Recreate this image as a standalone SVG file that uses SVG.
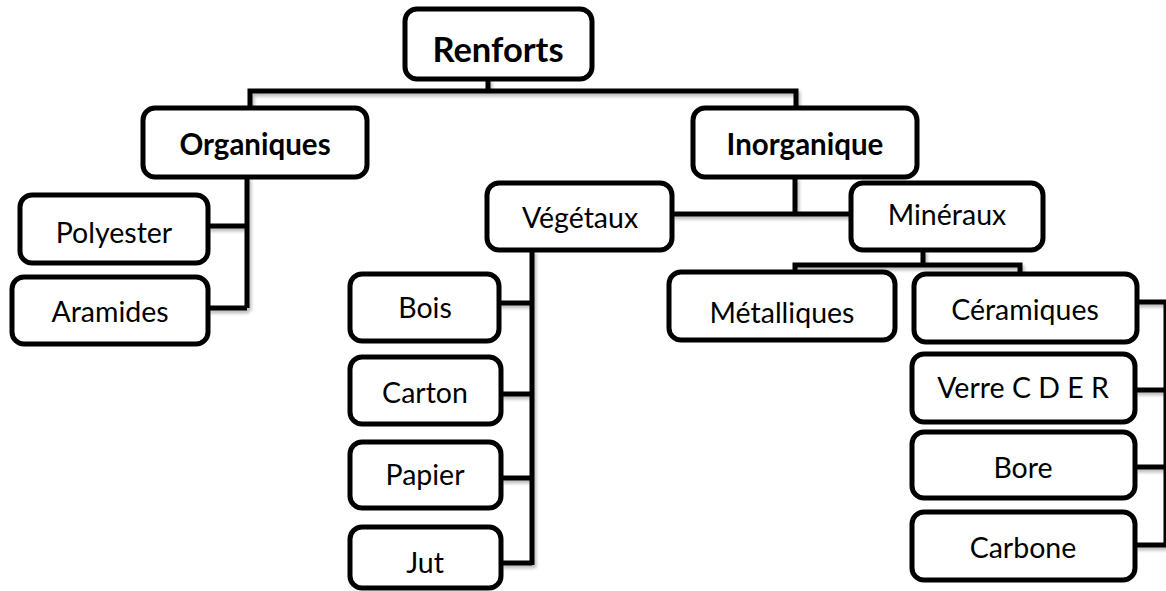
<svg xmlns="http://www.w3.org/2000/svg" width="1166" height="591" viewBox="0 0 1166 591">
<style>
.box{fill:#fff;stroke:#000;stroke-width:5}
.t{font-family:Lato,"Open Sans","Liberation Sans",sans-serif;font-size:28.5px;fill:#000;text-anchor:middle}
.b{font-weight:bold;font-size:29.5px}
.c{fill:none;stroke:#000;stroke-width:5;stroke-linejoin:miter}
</style>
<defs>
<filter id="sh" x="-5%" y="-5%" width="110%" height="110%">
<feDropShadow dx="2" dy="3" stdDeviation="1.5" flood-color="#000" flood-opacity="0.25"/>
</filter>
</defs>
<rect width="1166" height="591" fill="#fff"/>
<g id="connectors" filter="url(#sh)">
<path class="c" d="M488,79 V91 M250,110 V91 H796 V110"/>
<path class="c" d="M247,177 V308 M208,226 H247 M208,308 H247"/>
<path class="c" d="M795,177 V214 M672,214 H852"/>
<path class="c" d="M532,250 V565 M499,303 H532 M501,394 H532 M501,478 H532 M501,563 H532"/>
<path class="c" d="M923,250 V265 M795,274 V265 H1020 V274"/>
<path class="c" d="M1137,302 H1166 M1135,390 H1166 M1135,467 H1166 M1135,545 H1166 M1166,302 V545"/>
</g>
<g id="renforts"><rect class="box" x="405" y="9" width="187" height="70" rx="12"/><text class="t b" x="498" y="62" style="font-size:34.5px">Renforts</text></g>
<g id="organiques"><rect class="box" x="143" y="108" width="224" height="69" rx="12"/><text class="t b" x="255" y="155">Organiques</text></g>
<g id="inorganique"><rect class="box" x="693" y="108" width="224" height="69" rx="12"/><text class="t b" x="805" y="155">Inorganique</text></g>
<g id="polyester"><rect class="box" x="20" y="195" width="188" height="68" rx="12"/><text class="t" x="114" y="243">Polyester</text></g>
<g id="aramides"><rect class="box" x="12" y="277" width="196" height="67" rx="12"/><text class="t" x="110" y="322">Aramides</text></g>
<g id="vegetaux"><rect class="box" x="487" y="183" width="185" height="67" rx="12"/><text class="t" x="580" y="228">Végétaux</text></g>
<g id="mineraux"><rect class="box" x="851" y="183" width="192" height="67" rx="12"/><text class="t" x="947" y="225">Minéraux</text></g>
<g id="bois"><rect class="box" x="350" y="274" width="149" height="67" rx="12"/><text class="t" x="425" y="318">Bois</text></g>
<g id="carton"><rect class="box" x="350" y="357" width="151" height="67" rx="12"/><text class="t" x="425" y="403">Carton</text></g>
<g id="papier"><rect class="box" x="350" y="442" width="151" height="66" rx="12"/><text class="t" x="425" y="485">Papier</text></g>
<g id="jut"><rect class="box" x="350" y="527" width="151" height="61" rx="12"/><text class="t" x="425" y="573">Jut</text></g>
<g id="metalliques"><rect class="box" x="669" y="272" width="226" height="68" rx="12"/><text class="t" x="782" y="323">Métalliques</text></g>
<g id="ceramiques"><rect class="box" x="914" y="274" width="223" height="68" rx="12"/><text class="t" x="1025" y="320">Céramiques</text></g>
<g id="verre"><rect class="box" x="912" y="354" width="223" height="68" rx="12"/><text class="t" x="1023" y="398">Verre C D E R</text></g>
<g id="bore"><rect class="box" x="912" y="432" width="223" height="66" rx="12"/><text class="t" x="1023" y="478">Bore</text></g>
<g id="carbone"><rect class="box" x="912" y="512" width="223" height="68" rx="12"/><text class="t" x="1023" y="558">Carbone</text></g>
</svg>
